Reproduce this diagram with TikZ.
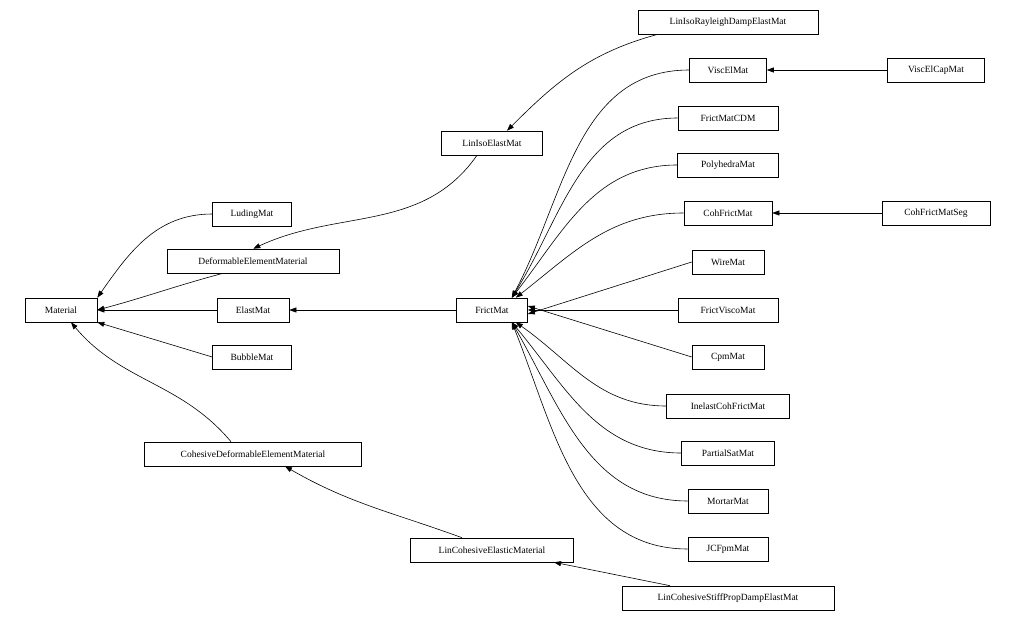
\documentclass[tikz,border=0pt]{standalone}
\usepackage{fontspec}
\setmainfont{Liberation Serif}
\usetikzlibrary{arrows.meta}
\begin{document}
\begin{tikzpicture}[x=1pt,y=-1pt,
  box/.style={draw,line width=0.6pt,minimum height=24pt,inner xsep=10pt,font=\fontsize{9.5}{10}\selectfont},
  edge/.style={draw,line width=0.6pt,-{Triangle[length=7pt,width=5pt]}}]
\useasboundingbox (0,0) rectangle (1015,620);
\node[box,minimum width=72pt] (Material) at (61,310) {Material};
\node[box,minimum width=79pt] (LudingMat) at (252,214) {LudingMat};
\node[box,minimum width=172pt] (DEM) at (253,261) {DeformableElementMaterial};
\node[box,minimum width=72pt] (ElastMat) at (253,310) {ElastMat};
\node[box,minimum width=79pt] (BubbleMat) at (252,357) {BubbleMat};
\node[box,minimum width=217pt] (CDEM) at (253,454) {CohesiveDeformableElementMaterial};
\node[box,minimum width=101pt] (LinIso) at (492,143) {LinIsoElastMat};
\node[box,minimum width=71pt] (FrictMat) at (492,310) {FrictMat};
\node[box,minimum width=163pt] (LCEM) at (492,550) {LinCohesiveElasticMaterial};
\node[box,minimum width=180pt] (Rayleigh) at (728,22) {LinIsoRayleighDampElastMat};
\node[box,minimum width=77pt] (ViscEl) at (728,70) {ViscElMat};
\node[box,minimum width=100pt] (CDM) at (728,118) {FrictMatCDM};
\node[box,minimum width=101pt] (Poly) at (728,165) {PolyhedraMat};
\node[box,minimum width=88pt] (Coh) at (728,213) {CohFrictMat};
\node[box,minimum width=72pt] (Wire) at (728,262) {WireMat};
\node[box,minimum width=100pt] (Visco) at (728,310) {FrictViscoMat};
\node[box,minimum width=72pt] (Cpm) at (728,357) {CpmMat};
\node[box,minimum width=123pt] (Inelast) at (728,406) {InelastCohFrictMat};
\node[box,minimum width=93pt] (Partial) at (728,453) {PartialSatMat};
\node[box,minimum width=80pt] (Mortar) at (728,501) {MortarMat};
\node[box,minimum width=80pt] (JCF) at (728,549) {JCFpmMat};
\node[box,minimum width=212pt] (LCSP) at (728,598) {LinCohesiveStiffPropDampElastMat};
\node[box,minimum width=97pt] (ViscCap) at (936,70) {ViscElCapMat};
\node[box,minimum width=108pt] (CohSeg) at (936,213) {CohFrictMatSeg};

\path[edge] (LudingMat.west) to[out=180,in=55] (Material.north east);
\path[edge] ([xshift=-30pt]DEM.south) to[out=195,in=15] (Material.east);
\path[edge] (ElastMat) -- (Material);
\path[edge] (BubbleMat.west) -- (Material.south east);
\path[edge] ([xshift=-22pt]CDEM.north) to[out=130,in=-50] ([xshift=10pt]Material.south);
\path[edge] ([xshift=-15pt]LinIso.south) to[out=-125,in=25] ([xshift=-86pt]DEM.north east);
\path[edge] (FrictMat) -- (ElastMat);
\path[edge] ([xshift=-30pt]LCEM.north) to[out=160,in=-30] ([xshift=32pt]CDEM.south);
\path[edge] ([xshift=-70pt]Rayleigh.south) to[out=195,in=45] ([xshift=15pt]LinIso.north);
\path[edge] (ViscCap) -- (ViscEl);
\path[edge] (CohSeg) -- (Coh);
\path[edge] ([xshift=-58pt]LCSP.north) -- ([xshift=62pt]LCEM.south);
\coordinate (fm) at ([xshift=-16pt]FrictMat.north east);
\path[edge] (ViscEl.west) to[out=180,in=62] (fm);
\path[edge] (CDM.west) to[out=180,in=58] (fm);
\path[edge] (Poly.west) to[out=180,in=52] (fm);
\path[edge] (Coh.west) to[out=180,in=38] ([xshift=-12pt]FrictMat.north east);
\path[edge] (Wire.west) -- ([yshift=-4pt]FrictMat.east);
\path[edge] (Visco) -- (FrictMat);
\path[edge] (Cpm.west) -- ([yshift=4pt]FrictMat.east);
\coordinate (fs) at ([xshift=-16pt]FrictMat.south east);
\path[edge] (Inelast.west) to[out=180,in=-35] ([xshift=-12pt]FrictMat.south east);
\path[edge] (Partial.west) to[out=180,in=-50] (fs);
\path[edge] (Mortar.west) to[out=180,in=-60] (fs);
\path[edge] (JCF.west) to[out=180,in=-68] (fs);
\end{tikzpicture}
\end{document}
